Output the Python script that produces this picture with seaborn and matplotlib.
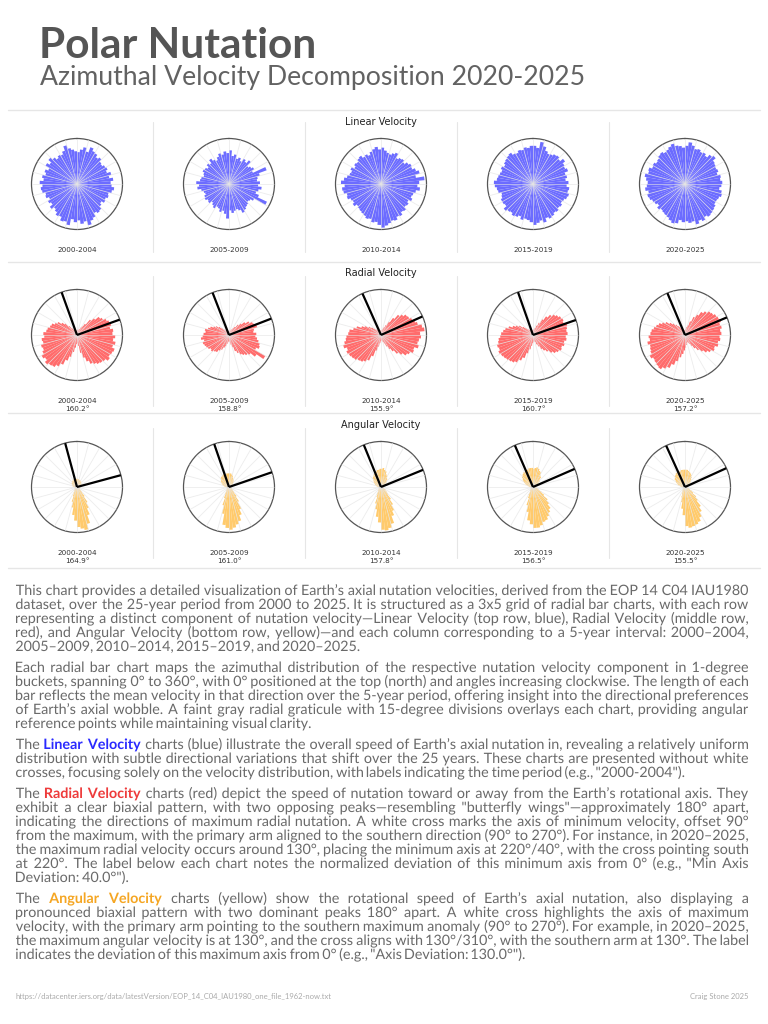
import numpy as np
import matplotlib
matplotlib.use("Agg")
import matplotlib.pyplot as plt
import matplotlib.transforms as mtransforms
from matplotlib.textpath import TextPath
from matplotlib.patches import PathPatch
from matplotlib.font_manager import FontProperties
import seaborn as sns

# ===============================
# DATA (bar length as % of outer ring, 5-degree buckets, 0 = north, clockwise)
# ===============================
periods = ["2000-2004", "2005-2009", "2010-2014", "2015-2019", "2020-2025"]
bucket_deg = np.arange(2.5, 360, 5)

linear_vals = [
    [70, 76, 82, 74, 86, 80, 78, 72, 76, 70, 68, 72,
     74, 70, 78, 72, 80, 74, 76, 82, 78, 72, 74, 70,
     72, 66, 70, 76, 78, 74, 82, 86, 94, 84, 88, 80,
     84, 78, 92, 86, 88, 80, 82, 76, 72, 78, 70, 74,
     68, 74, 72, 78, 80, 76, 82, 74, 78, 72, 76, 70,
     80, 74, 82, 76, 70, 74, 72, 78, 88, 80, 76, 72],
    [74, 62, 66, 58, 62, 56, 64, 60, 68, 56, 60, 64,
     58, 88, 70, 64, 62, 68, 64, 72, 66, 62, 70, 92,
     64, 58, 56, 60, 62, 66, 70, 62, 58, 60, 64, 58,
     76, 66, 60, 64, 58, 56, 62, 58, 54, 60, 58, 62,
     60, 56, 58, 62, 70, 66, 72, 64, 62, 58, 60, 64,
     62, 58, 64, 60, 68, 62, 58, 64, 70, 66, 72, 68],
    [80, 74, 70, 68, 72, 76, 66, 70, 72, 68, 74, 78,
     76, 82, 88, 78, 96, 84, 80, 86, 78, 74, 72, 76,
     70, 74, 72, 78, 76, 82, 80, 86, 84, 88, 92, 96,
     90, 84, 86, 80, 82, 78, 76, 74, 72, 70, 76, 72,
     74, 80, 78, 84, 86, 80, 88, 82, 76, 72, 70, 74,
     68, 72, 70, 74, 76, 70, 72, 68, 74, 78, 82, 76],
    [84, 80, 94, 86, 78, 74, 76, 80, 82, 78, 86, 80,
     78, 82, 74, 76, 72, 78, 74, 80, 78, 82, 80, 76,
     74, 78, 76, 80, 78, 82, 84, 80, 88, 82, 86, 90,
     84, 80, 78, 82, 76, 80, 82, 78, 80, 84, 76, 78,
     78, 74, 72, 78, 80, 84, 86, 80, 78, 76, 74, 78,
     74, 78, 80, 82, 84, 78, 76, 80, 78, 82, 80, 84],
    [84, 92, 86, 80, 82, 78, 80, 76, 84, 88, 80, 78,
     76, 78, 74, 80, 78, 82, 80, 76, 82, 84, 80, 78,
     78, 82, 84, 86, 88, 84, 90, 86, 92, 84, 86, 82,
     84, 80, 88, 90, 86, 82, 80, 78, 76, 80, 74, 78,
     80, 84, 86, 82, 88, 84, 82, 86, 90, 84, 86, 80,
     82, 78, 80, 84, 86, 82, 84, 88, 92, 86, 84, 80],
]

radial_vals = [
    [10, 12, 12, 10, 14, 18, 22, 30, 44, 52, 62, 66,
     72, 76, 78, 74, 80, 78, 84, 80, 86, 82, 88, 86,
     84, 88, 82, 80, 78, 74, 70, 62, 52, 40, 24, 18,
     20, 28, 38, 50, 60, 72, 80, 86, 88, 92, 86, 90,
     84, 80, 82, 76, 78, 72, 74, 68, 66, 62, 60, 54,
     50, 42, 36, 26, 18, 14, 12, 10, 10, 8, 10, 10],
    [8, 8, 10, 10, 12, 14, 18, 22, 30, 36, 44, 52,
     58, 60, 64, 56, 54, 60, 58, 62, 66, 70, 72, 66,
     92, 74, 62, 58, 54, 50, 44, 38, 28, 22, 16, 14,
     14, 16, 20, 26, 30, 36, 40, 46, 48, 52, 50, 54,
     56, 58, 60, 56, 62, 58, 56, 52, 54, 48, 44, 38,
     34, 28, 22, 16, 12, 10, 8, 8, 8, 8, 8, 8],
    [10, 10, 12, 14, 18, 24, 34, 46, 58, 64, 70, 72,
     76, 80, 84, 92, 96, 86, 88, 84, 82, 86, 78, 80,
     74, 70, 62, 54, 44, 36, 28, 20, 16, 14, 12, 12,
     14, 18, 26, 36, 50, 62, 68, 72, 74, 78, 80, 82,
     84, 80, 86, 82, 78, 76, 72, 70, 62, 56, 46, 40,
     32, 26, 20, 16, 14, 12, 10, 10, 10, 10, 10, 10],
    [12, 12, 14, 16, 22, 30, 40, 50, 58, 64, 68, 72,
     74, 72, 78, 76, 74, 76, 72, 74, 70, 72, 68, 70,
     66, 62, 56, 48, 42, 36, 28, 22, 16, 14, 14, 16,
     18, 24, 32, 42, 54, 62, 70, 74, 76, 78, 80, 82,
     84, 80, 82, 78, 76, 72, 70, 66, 62, 56, 48, 42,
     36, 28, 22, 18, 14, 12, 10, 10, 10, 10, 10, 10],
    [12, 14, 18, 22, 32, 44, 52, 62, 68, 74, 76, 80,
     82, 84, 80, 82, 78, 80, 76, 78, 74, 76, 70, 72,
     66, 60, 52, 44, 36, 28, 22, 18, 16, 18, 22, 28,
     34, 42, 50, 60, 70, 80, 86, 92, 90, 88, 86, 90,
     84, 82, 80, 84, 78, 80, 76, 74, 70, 66, 62, 56,
     50, 42, 36, 30, 24, 18, 16, 14, 12, 12, 10, 10],
]

angular_vals = [
    [18, 16, 18, 16, 15, 16, 14, 15, 13, 12, 12, 12,
     10, 10, 8, 8, 6, 6, 5, 5, 5, 5, 6, 6,
     8, 8, 12, 16, 26, 40, 52, 66, 84, 96, 92, 88,
     74, 62, 46, 34, 22, 16, 11, 9, 7, 7, 6, 6,
     5, 5, 5, 5, 6, 6, 8, 8, 10, 10, 12, 12,
     14, 14, 15, 16, 16, 17, 18, 18, 18, 17, 18, 18],
    [30, 30, 28, 26, 22, 20, 18, 16, 14, 12, 10, 9,
     8, 7, 6, 6, 5, 5, 5, 5, 5, 6, 6, 7,
     8, 10, 12, 16, 26, 38, 54, 66, 78, 84, 90, 94,
     90, 84, 60, 42, 26, 18, 12, 9, 7, 6, 6, 5,
     5, 5, 5, 6, 6, 7, 8, 10, 12, 14, 16, 18,
     20, 22, 24, 26, 28, 28, 30, 30, 32, 30, 30, 30],
    [40, 42, 38, 36, 30, 28, 24, 22, 18, 16, 12, 10,
     8, 8, 6, 6, 5, 5, 5, 5, 6, 6, 8, 8,
     12, 12, 18, 22, 34, 46, 58, 68, 84, 92, 96, 94,
     78, 66, 50, 38, 24, 18, 12, 10, 8, 7, 6, 6,
     5, 5, 5, 5, 6, 6, 8, 8, 10, 12, 14, 16,
     18, 20, 22, 26, 28, 30, 32, 34, 36, 38, 38, 40],
    [40, 42, 44, 42, 38, 36, 30, 28, 22, 20, 15, 13,
     10, 9, 7, 7, 6, 6, 6, 7, 8, 10, 12, 16,
     22, 30, 42, 50, 60, 66, 72, 78, 80, 86, 90, 90,
     82, 74, 56, 42, 26, 20, 12, 10, 8, 7, 6, 6,
     5, 5, 5, 5, 6, 6, 8, 9, 12, 14, 18, 22,
     26, 28, 32, 34, 36, 38, 38, 40, 40, 42, 42, 42],
    [38, 38, 36, 34, 32, 30, 26, 22, 18, 16, 12, 10,
     8, 8, 6, 6, 5, 5, 5, 5, 6, 6, 10, 12,
     18, 22, 32, 40, 54, 64, 74, 82, 86, 88, 90, 86,
     62, 48, 34, 24, 16, 12, 10, 8, 7, 6, 6, 5,
     5, 5, 5, 6, 6, 7, 8, 10, 12, 16, 18, 22,
     24, 28, 30, 32, 34, 36, 36, 36, 36, 38, 38, 38],
]

radial_dev = [160.2, 158.8, 155.9, 160.7, 157.2]
angular_dev = [164.9, 161.0, 157.8, 156.5, 155.5]

# ===============================
# STYLE
# ===============================
sns.set_theme(style="white")
plt.rcParams['font.family'] = ['DejaVu Sans']

W, H = 768, 1024
BODY_FONT = 'Lato'
GREY = '#6a6a6a'

row_colors = ['#6464ff', '#ff6464', '#ffc864']
row_titles = ['Linear Velocity', 'Radial Velocity', 'Angular Velocity']
row_y = [184, 335, 487]
col_x = [77, 229, 381, 533, 685]
R = 45.5

fig = plt.figure(figsize=(W / 100, H / 100), dpi=100)
fig.patch.set_facecolor('white')


def fx(x):
    return x / W


def fy(y):
    return 1 - y / H


def hline(y, x0=8, x1=760):
    fig.add_artist(plt.Line2D([fx(x0), fx(x1)], [fy(y), fy(y)], transform=fig.transFigure,
                              color='#e6e6e6', lw=1))


def vline(x, y0, y1):
    fig.add_artist(plt.Line2D([fx(x), fx(x)], [fy(y0), fy(y1)], transform=fig.transFigure,
                              color='#e6e6e6', lw=0.8))


# ===============================
# TITLE
# ===============================
fig.text(fx(39), fy(58), "Polar Nutation", fontsize=30.5, fontweight='bold', color='#555555',
         family=BODY_FONT, va='baseline')
fig.text(fx(40), fy(85), "Azimuthal Velocity Decomposition 2020-2025", fontsize=19.2,
         color='#626262', family=BODY_FONT, va='baseline')

# ===============================
# GRID OF POLAR CHARTS
# ===============================
theta = np.deg2rad(bucket_deg)
all_vals = [linear_vals, radial_vals, angular_vals]
all_dev = [None, radial_dev, angular_dev]
label_top = [122, 276, 428]

hline(110)
for r_i in range(3):
    cy = row_y[r_i]
    fig.text(fx(381), fy(cy - 62), row_titles[r_i], fontsize=7, color='#222222',
             ha='center', va='center')
    for c_i in range(5):
        cx = col_x[c_i]
        ax = fig.add_axes([fx(cx - R), fy(cy + R), 2 * R / W, 2 * R / H], projection='polar')
        ax.set_theta_zero_location('N')
        ax.set_theta_direction(-1)
        vals = np.array(all_vals[r_i][c_i]) / 100
        ax.bar(theta, vals, width=np.deg2rad(5), color=row_colors[r_i], alpha=0.95,
               edgecolor='none', linewidth=0, zorder=1)
        ax.set_ylim(0, 1)
        ax.set_xticks(np.deg2rad(np.arange(0, 360, 15)))
        ax.set_xticklabels([])
        ax.set_yticks([])
        ax.grid(True, axis='x', color='#e4e4e4', lw=0.6, alpha=0.7)
        ax.set_axisbelow(False)
        ax.spines['polar'].set_color('#555555')
        ax.spines['polar'].set_linewidth(0.9)
        ax.set_facecolor('none')

        dev = all_dev[r_i]
        fig.text(fx(cx), fy(cy + 66), periods[c_i], fontsize=5.2, color='#333333',
                 ha='center', va='center')
        if dev is not None:
            d = dev[c_i]
            # white arms sit under the bars, black arms on top
            for ang, col, z in [(d, 'white', 0.5), (d + 90, 'white', 0.5),
                                (d + 180, 'black', 4), (d + 270, 'black', 4)]:
                a = np.deg2rad(ang % 360)
                ax.plot([a, a], [0, 1], color=col, lw=1.6, solid_capstyle='butt', zorder=z)
            fig.text(fx(cx), fy(cy + 74), f"{d:.1f}°", fontsize=5.2, color='#333333',
                     ha='center', va='center')

    for c_i in range(4):
        vline((col_x[c_i] + col_x[c_i + 1]) / 2, label_top[r_i], label_top[r_i] + 130)
    hline(row_y[r_i] + 78 if r_i < 2 else 568)

# ===============================
# BODY TEXT (justified by hand, drawn as glyph paths)
# ===============================
paragraphs = [
    ["This chart provides a detailed visualization of Earth’s axial nutation velocities, derived from the EOP 14 C04 IAU1980",
     "dataset, over the 25-year period from 2000 to 2025. It is structured as a 3x5 grid of radial bar charts, with each row",
     "representing a distinct component of nutation velocity—Linear Velocity (top row, blue), Radial Velocity (middle row,",
     "red), and Angular Velocity (bottom row, yellow)—and each column corresponding to a 5-year interval: 2000–2004,",
     "2005–2009, 2010–2014, 2015–2019, and 2020–2025."],
    ["Each radial bar chart maps the azimuthal distribution of the respective nutation velocity component in 1-degree",
     "buckets, spanning 0° to 360°, with 0° positioned at the top (north) and angles increasing clockwise. The length of each",
     "bar reflects the mean velocity in that direction over the 5-year period, offering insight into the directional preferences",
     "of Earth’s axial wobble. A faint gray radial graticule with 15-degree divisions overlays each chart, providing angular",
     "reference points while maintaining visual clarity."],
    ["The [b]Linear [b]Velocity charts (blue) illustrate the overall speed of Earth’s axial nutation in, revealing a relatively uniform",
     "distribution with subtle directional variations that shift over the 25 years. These charts are presented without white",
     "crosses, focusing solely on the velocity distribution, with labels indicating the time period (e.g., \"2000-2004\")."],
    ["The [r]Radial [r]Velocity charts (red) depict the speed of nutation toward or away from the Earth’s rotational axis. They",
     "exhibit a clear biaxial pattern, with two opposing peaks—resembling \"butterfly wings\"—approximately 180° apart,",
     "indicating the directions of maximum radial nutation. A white cross marks the axis of minimum velocity, offset 90°",
     "from the maximum, with the primary arm aligned to the southern direction (90° to 270°). For instance, in 2020–2025,",
     "the maximum radial velocity occurs around 130°, placing the minimum axis at 220°/40°, with the cross pointing south",
     "at 220°. The label below each chart notes the normalized deviation of this minimum axis from 0° (e.g., \"Min Axis",
     "Deviation: 40.0°\")."],
    ["The [y]Angular [y]Velocity charts (yellow) show the rotational speed of Earth’s axial nutation, also displaying a",
     "pronounced biaxial pattern with two dominant peaks 180° apart. A white cross highlights the axis of maximum",
     "velocity, with the primary arm pointing to the southern maximum anomaly (90° to 270°). For example, in 2020–2025,",
     "the maximum angular velocity is at 130°, and the cross aligns with 130°/310°, with the southern arm at 130°. The label",
     "indicates the deviation of this maximum axis from 0° (e.g., \"Axis Deviation: 130.0°\")."],
]
highlight = {'[b]': '#2a2aff', '[r]': '#ee3b3b', '[y]': '#f5a623'}

LEFT, RIGHT = 16, 748
SPACE = 0.27  # natural word gap, in em
fp_normal = FontProperties(family=BODY_FONT)
fp_bold = FontProperties(family=BODY_FONT, weight='bold')


def split_words(line):
    out = []
    for word in line.split(' '):
        if word[:3] in highlight:
            out.append((word[3:], highlight[word[:3]], fp_bold))
        else:
            out.append((word, GREY, fp_normal))
    return out


def word_path(word, fp, size_px):
    tp = TextPath((0, 0), word, size=size_px, prop=fp)
    ext = tp.get_extents()
    return tp, ext.x0, ext.width


# pick the body size so the longest full line just fits the column
probe = 12.0
widest = 0
for para in paragraphs:
    for line in para[:-1]:
        words = split_words(line)
        tot = sum(word_path(w, fp, probe)[2] for w, c, fp in words) + SPACE * probe * (len(words) - 1)
        widest = max(widest, tot)
BODY_PX = probe * (RIGHT - LEFT) * 0.99 / widest


def draw_line(line, y, justify):
    words = split_words(line)
    paths = [word_path(w, fp, BODY_PX) for w, c, fp in words]
    widths = [p[2] for p in paths]
    gap = (RIGHT - LEFT - sum(widths)) / (len(words) - 1) if justify else SPACE * BODY_PX
    x = LEFT
    for (tp, x0, w), (_, color, _) in zip(paths, words):
        tr = mtransforms.Affine2D().translate(x - x0, H - y)
        fig.add_artist(PathPatch(tp, transform=tr, facecolor=color, edgecolor='none', lw=0))
        x += w + gap


y = 595
for para in paragraphs:
    for i, line in enumerate(para):
        draw_line(line, y, i < len(para) - 1)
        y += 14
    y += 7

# ===============================
# FOOTER
# ===============================
fig.text(fx(16), fy(996), "https://datacenter.iers.org/data/latestVersion/EOP_14_C04_IAU1980_one_file_1962-now.txt",
         fontsize=5.5, color='#aaaaaa', family=BODY_FONT, va='center')
fig.text(fx(748), fy(996), "Craig Stone 2025", fontsize=5.5, color='#aaaaaa', family=BODY_FONT,
         va='center', ha='right')

fig.savefig("out.png", dpi=100)
